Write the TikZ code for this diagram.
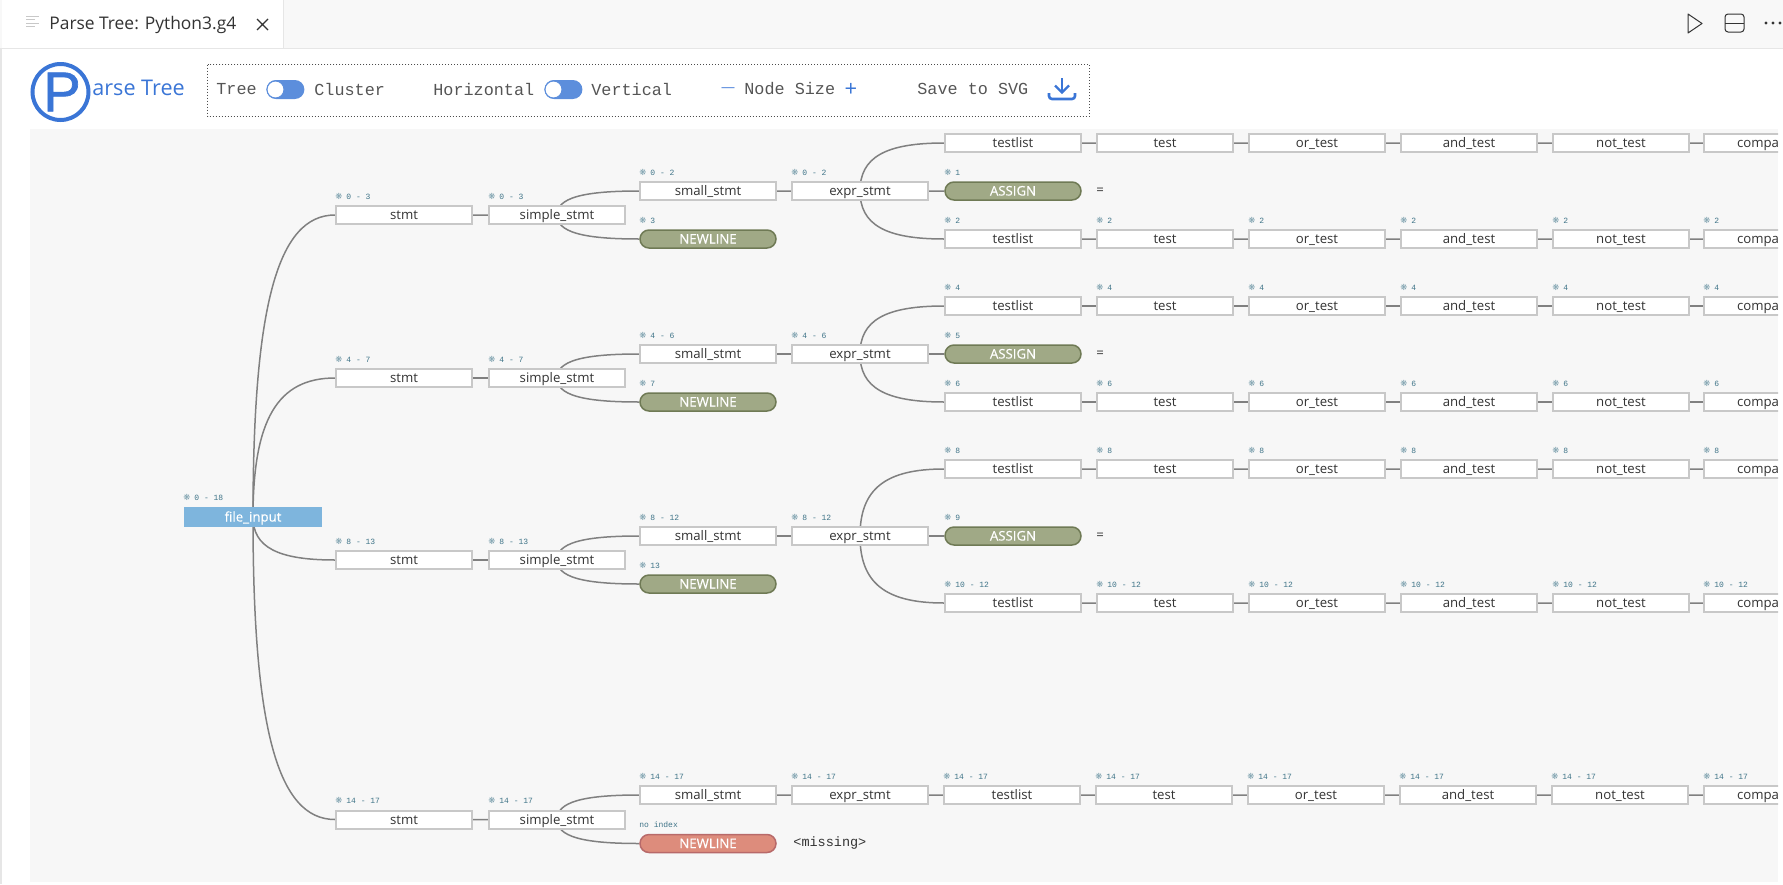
\documentclass[tikz,border=0pt]{standalone}
\usepackage{fontspec}
\setmainfont{Open Sans}
\newfontfamily\tokenfont[FakeBold=0.4]{Open Sans}
\newfontfamily\toolfont{Liberation Mono}
\newfontfamily\logofont{Liberation Sans}
\newfontfamily\logobig[FakeBold=1.2]{Liberation Sans}
\newfontfamily\glyphfont{DejaVu Sans}
\usetikzlibrary{calc,backgrounds}
\definecolor{canvasgrey}{HTML}{F7F7F7}
\definecolor{stripgrey}{HTML}{F8F8F8}
\definecolor{edgegrey}{HTML}{E6E6E6}
\definecolor{boxgrey}{HTML}{C8C8C8}
\definecolor{linkgrey}{HTML}{808080}
\definecolor{inktext}{HTML}{333333}
\definecolor{tooltext}{HTML}{555555}
\definecolor{logoblue}{HTML}{3A75D6}
\definecolor{knobblue}{HTML}{5C8EDC}
\definecolor{rootblue}{HTML}{7EB5DD}
\definecolor{tokengreen}{HTML}{A0A986}
\definecolor{tokenedge}{HTML}{6F7A55}
\definecolor{missred}{HTML}{DD8C7C}
\definecolor{missedge}{HTML}{B86A6A}
\definecolor{idxteal}{HTML}{3F7488}
\newcommand{\idx}[2]{\node[idx] (#1l) at ([yshift=2.6pt]#1.north west) {\makebox[5.5pt][l]{\glyphfont\fontsize{4.2}{4.2}\selectfont\color{idxteal!70}\char"274B}#2};}
\newcommand{\treelink}[2]{\begin{scope}[on background layer]\draw[link] (#1.center) .. controls ($(#1.center)!0.7!(#1.center |- #2.west)$) and ($(#2.west)!0.7!(#1.center |- #2.west)$) .. (#2.west);\end{scope}}

\begin{document}
\begin{tikzpicture}[x=0.5pt,y=-0.5pt,
            basic/.style={anchor=west,minimum width=68pt,minimum height=9pt,inner sep=0,outer sep=0.5pt,
                             text height=6pt,text depth=1.5pt,font=\fontsize{6.6}{7}\selectfont},
            rule box/.style={basic,draw=boxgrey,line width=1pt,fill=white,text=inktext},
            last box/.style={rule box,text width=68pt,align=left},
            root box/.style={basic,minimum width=69pt,minimum height=10pt,fill=rootblue,text=white,font=\tokenfont\fontsize{6.6}{7}\selectfont},
            token box/.style={basic,draw=tokenedge,line width=0.75pt,fill=tokengreen,text=white,rounded corners=4.5pt,font=\tokenfont\fontsize{6.6}{7}\selectfont},
            miss box/.style={token box,draw=missedge,fill=missred},
            value/.style={anchor=west,inner sep=0,text=inktext,font=\fontsize{6.6}{7}\selectfont},
            idx/.style={anchor=south west,inner sep=0,text=idxteal,text height=3pt,text depth=0pt,
                             font=\toolfont\fontsize{4}{4}\selectfont},
            link/.style={draw=linkgrey,line width=0.75pt},
            tool/.style={anchor=west,inner sep=0,text=tooltext,font=\toolfont\fontsize{8.4}{9}\selectfont},
            toggle/.style={anchor=west,minimum width=19pt,minimum height=9.5pt,inner sep=0,fill=knobblue,rounded corners=4.75pt},
            knob/.style={circle,minimum size=8.5pt,inner sep=0,fill=white,draw=knobblue,line width=0.5pt},
            logo/.style={draw=logoblue,line width=2pt}]
            \useasboundingbox (0,0) rectangle (1783,884);
            %==================
            \fill[stripgrey] (0,0) rectangle (1783,48);
            \fill[white] (2,0) rectangle (283,48);
            \draw[edgegrey,line width=0.5pt] (283,0) -- (283,48);
            \draw[edgegrey,line width=0.5pt] (0,48.5) -- (1783,48.5);
            \fill[edgegrey] (0,48) rectangle (2,884);
            \foreach \w [count=\i] in {13,9,13,9}{
            \draw[boxgrey,line width=0.6pt] (26,{13+\i*3.4}) -- ++(\w,0);
            }
            \node[anchor=west,inner sep=0,text=inktext,font=\fontsize{8.7}{10}\selectfont] (tabtitle) at (49,24.5) {Parse Tree: Python3.g4};
            \draw[inktext,line width=0.6pt] (257,19) -- (268,30) (268,19) -- (257,30);
            \draw[inktext,line width=0.5pt,line join=round] (1688,14) -- (1702,23.5) -- (1688,33) -- cycle;
            \draw[inktext,line width=0.5pt,rounded corners=1.5pt] (1725,14) rectangle (1744,32);
            \draw[inktext,line width=0.5pt] (1725,23) -- (1744,23);
            \foreach \x in {1766,1773,1780}{
            \fill[inktext] (\x,23) circle (0.8pt);
            }
            %==================
            \draw[logo] (60.5,92) circle (28);
            \node[inner sep=0,text=logoblue,font=\logobig\fontsize{28}{28}\selectfont] (logop) at (62,92) {P};
            \node[anchor=west,inner sep=0,text=logoblue,font=\fontsize{10.8}{12}\selectfont] (logotext) at (92,88) {arse Tree};
            \draw[densely dotted,black!70,line width=0.5pt] (207.5,64.5) rectangle (1089,116.5);
            \node[tool] (tree) at (216,89) {Tree};
            \node[toggle] (treetg) at (266,89.5) {};
            \node[knob] (treekn) at (275.5,89.5) {};
            \node[tool] (cluster) at (314,89) {Cluster};
            \node[tool] (horiz) at (433,89) {Horizontal};
            \node[toggle] (horiztg) at (544,89.5) {};
            \node[knob] (horizkn) at (553.5,89.5) {};
            \node[tool] (vert) at (591,89) {Vertical};
            \node[anchor=center,inner sep=0,text=logoblue,font=\logofont\fontsize{6.5}{9}\selectfont] (minus) at (728,89.5) {—};
            \node[tool] (nodesize) at (744,89) {Node Size};
            \node[anchor=center,inner sep=0,text=logoblue,font=\fontsize{11}{12}\selectfont] (plus) at (851,89.5) {+};
            \node[tool] (save) at (917,89) {Save to SVG};
            \draw[logoblue,line width=1.2pt] (1062,78) -- (1062,92);
            \draw[logoblue,line width=1.2pt] (1055,85.5) -- (1062,92.5) -- (1069,85.5);
            \draw[logoblue,line width=1.3pt,rounded corners=1.5pt] (1049,93) -- (1049,99) -- (1075,99) -- (1075,93);
            % ===================
            \begin{scope}[on background layer]
            \fill[canvasgrey] (30,129) rectangle (1778,882);
            \end{scope}
            \begin{scope}
            \clip (30,129) rectangle (1778,882);
            \node[root box] (root) at (183,517) {file\_input};
            \idx{root}{0 - 18}
            % ===================
            \foreach \r/\ya/\yb/\yc/\yd/\ye/\la/\lb/\lc/\ld/\le/\lf in {
                1/143/191/239/239/215/0 - 3/0 - 2/3/0/1/2,
                2/306/354/402/402/378/4 - 7/4 - 6/7/4/5/6,
                3/469/536/603/584/560/8 - 13/8 - 12/13/8/9/10 - 12}{
                \node[rule box] (stmt\r) at (335,\ye) {stmt};
                \node[rule box] (simple\r) at (488,\ye) {simple\_stmt};
                \node[rule box] (small\r) at (639,\yb) {small\_stmt};
                \node[token box] (nl\r) at (639,\yd) {NEWLINE};
                \node[rule box] (expr\r) at (791,\yb) {expr\_stmt};
                \node[token box] (assign\r) at (944,\yb) {ASSIGN};
                \node[value] (eq\r) at (1096,\yb) {=};
                \idx{stmt\r}{\la}
                \idx{simple\r}{\la}
                \idx{small\r}{\lb}
                \idx{nl\r}{\lc}
                \idx{expr\r}{\lb}
                \idx{assign\r}{\le}
                \treelink{root}{stmt\r}
                \treelink{stmt\r}{simple\r}
                \treelink{simple\r}{small\r}
                \treelink{simple\r}{nl\r}
                \treelink{small\r}{expr\r}
                \treelink{expr\r}{assign\r}
                \foreach \w/\yy in {a/\ya,c/\yc}{
                    \foreach \t [count=\i] in {testlist,test,or\_test,and\_test,not\_test}{
                    \node[rule box] (\w\r\i) at ({944+152*(\i-1)},\yy) {\t};
                    }
                    \node[last box] (\w\r6) at (1703,\yy) {\hspace*{16.5pt}compa};
                    \treelink{expr\r}{\w\r1}
                    \foreach \i [evaluate=\i as \j using int(\i+1)] in {1,...,5}{
                    \treelink{\w\r\i}{\w\r\j}
                    }
                }
                \foreach \i in {1,...,6}{
                \ifnum\r>1 \idx{a\r\i}{\ld}\fi
                \idx{c\r\i}{\lf}
                }
            }
            % ===================
            \node[rule box] (stmt4) at (335,819.5) {stmt};
            \node[rule box] (simple4) at (488,819.5) {simple\_stmt};
            \node[miss box] (nl4) at (639,843.5) {NEWLINE};
            \node[anchor=west,inner sep=0,text=inktext,font=\toolfont\fontsize{6.75}{8}\selectfont] (missing) at (793,843) {<missing>};
            \node[idx] (nl4l) at ([yshift=2.6pt]nl4.north west) {no index};
            \idx{stmt4}{14 - 17}
            \idx{simple4}{14 - 17}
            \treelink{root}{stmt4}
            \treelink{stmt4}{simple4}
            \treelink{simple4}{nl4}
            \foreach \t [count=\i] in {small\_stmt,expr\_stmt,testlist,test,or\_test,and\_test,not\_test}{
            \node[rule box] (b\i) at ({639+152*(\i-1)},795) {\t};
            \idx{b\i}{14 - 17}
            }
            \node[last box] (b8) at (1703,795) {\hspace*{16.5pt}compa};
            \idx{b8}{14 - 17}
            \treelink{simple4}{b1}
            \foreach \i [evaluate=\i as \j using int(\i+1)] in {1,...,7}{
            \treelink{b\i}{b\j}
            }
            \end{scope}
        \end{tikzpicture}
\end{document}
